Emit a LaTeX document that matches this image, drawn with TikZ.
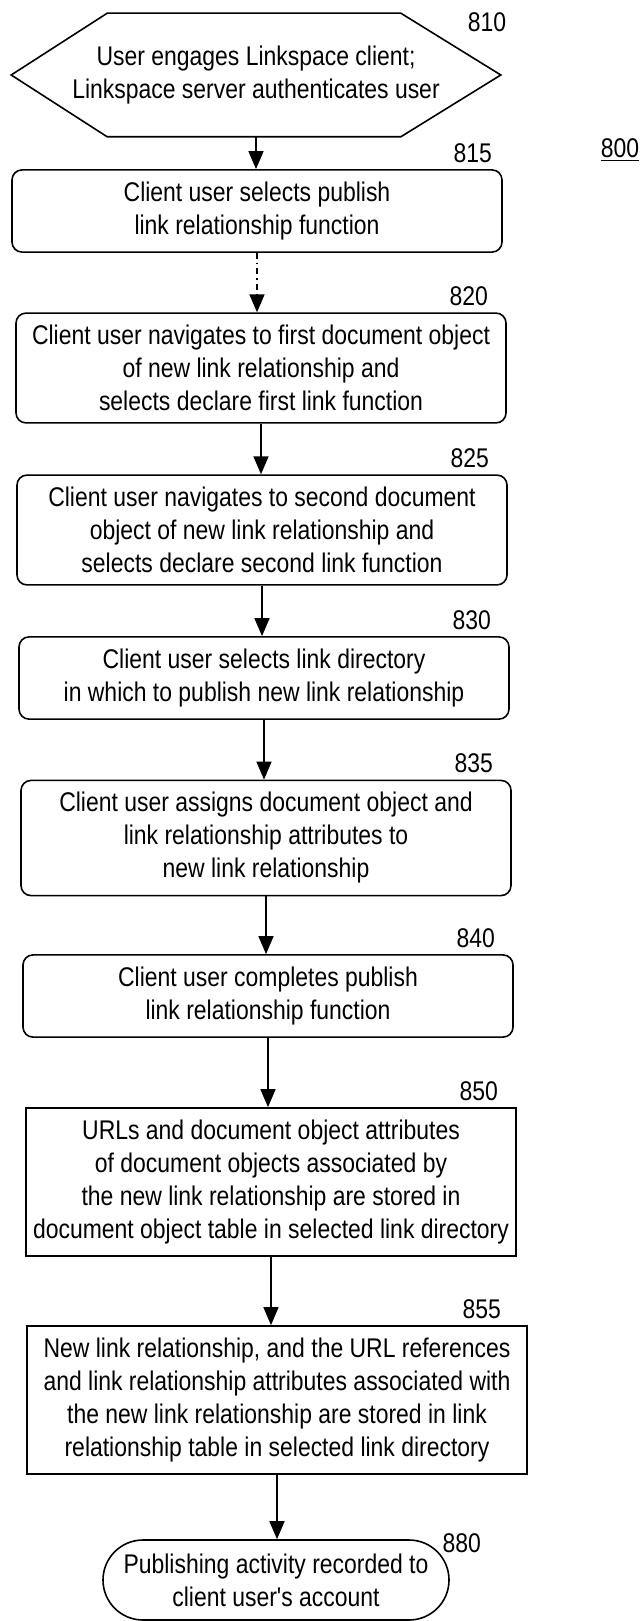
\documentclass[tikz,border=0pt]{standalone}
\usepackage{fontspec}
\newfontfamily\chartfont[FakeStretch=0.85]{Liberation Sans}
\usetikzlibrary{positioning,arrows.meta}

\tikzset{
  chart/.style={x=0.5pt,y=-0.5pt,line width=0.8pt,
    font=\chartfont\fontsize{13.5pt}{16.5pt}\selectfont},
  stepbox/.style={draw,rounded corners=5pt,minimum width=245pt,
    align=center,inner ysep=6pt},
  stepsharp/.style={stepbox,sharp corners},
  hexstart/.style={minimum width=244pt,minimum height=61pt,align=center},
  endcap/.style={draw,rounded corners=20pt,minimum width=173pt,
    minimum height=40pt,align=center},
  reflabel/.style={inner sep=1pt},
  flowarrow/.style={-{Triangle[width=7.5pt,length=9pt]}}
}

\begin{document}
\begin{tikzpicture}[chart]
\useasboundingbox (0,0) rectangle (643,1621);

\node[hexstart] (s810) at (256,75) {User engages Linkspace client;\\Linkspace server authenticates user};
\draw (s810.west) -- ([xshift=48pt]s810.north west) -- ([xshift=-50pt]s810.north east)
  -- (s810.east) -- ([xshift=-50pt]s810.south east) -- ([xshift=48pt]s810.south west) -- cycle;

\node[stepbox] (b815) at (257,211) {Client user selects publish\\link relationship function};
\node[stepbox] (b820) at (261,368) {Client user navigates to first document object\\of new link relationship and\\selects declare first link function};
\node[stepbox] (b825) at (262,530) {Client user navigates to second document\\object of new link relationship and\\selects declare second link function};
\node[stepbox] (b830) at (264,678) {Client user selects link directory\\in which to publish new link relationship};
\node[stepbox] (b835) at (266,838) {Client user assigns document object and\\link relationship attributes to\\new link relationship};
\node[stepbox] (b840) at (268,996) {Client user completes publish\\link relationship function};
\node[stepsharp] (b850) at (271,1182) {URLs and document object attributes\\of document objects associated by\\the new link relationship are stored in\\document object table in selected link directory};
\node[stepsharp,minimum width=250pt] (b855) at (277,1400) {New link relationship, and the URL references\\and link relationship attributes associated with\\the new link relationship are stored in link\\relationship table in selected link directory};
\node[endcap] (b880) at (276,1580) {Publishing activity recorded to\\client user's account};

% reference numerals
\node[reflabel] (l810) at (487,22) {810};
\node[reflabel] (l800) at (620,150) {\underline{800}};
\node[reflabel,above left=2pt and 4pt of b815.north east] (l815) {815};
\node[reflabel,above left=2pt and 8pt of b820.north east] (l820) {820};
\node[reflabel,above left=2pt and 8pt of b825.north east] (l825) {825};
\node[reflabel,above left=2pt and 8pt of b830.north east] (l830) {830};
\node[reflabel,above left=2pt and 8pt of b835.north east] (l835) {835};
\node[reflabel,above left=2pt and 8pt of b840.north east] (l840) {840};
\node[reflabel,above left=2pt and 8pt of b850.north east] (l850) {850};
\node[reflabel,above left=2pt and 12pt of b855.north east] (l855) {855};
\node[reflabel,above right=-8pt and -5pt of b880.north east] (l880) {880};

\draw[flowarrow] (s810.south) -- (s810.south |- b815.north);
\draw[flowarrow,dashdotted] (b815.south) -- (b815.south |- b820.north);
\draw[flowarrow] (b820.south) -- (b820.south |- b825.north);
\draw[flowarrow] (b825.south) -- (b825.south |- b830.north);
\draw[flowarrow] (b830.south) -- (b830.south |- b835.north);
\draw[flowarrow] (b835.south) -- (b835.south |- b840.north);
\draw[flowarrow] (b840.south) -- (b840.south |- b850.north);
\draw[flowarrow] (b850.south) -- (b850.south |- b855.north);
\draw[flowarrow] (b855.south) -- (b855.south |- b880.north);
\end{tikzpicture}
\end{document}
